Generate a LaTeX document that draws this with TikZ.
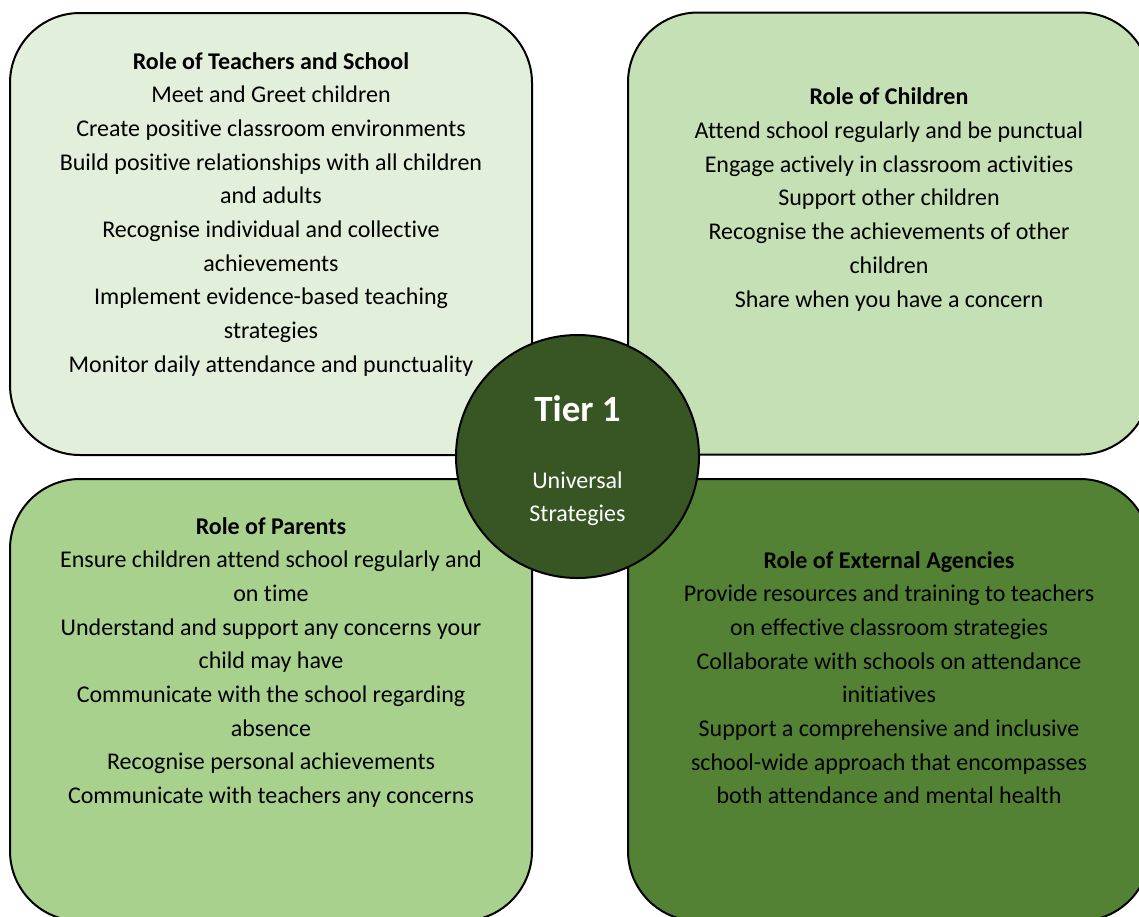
\documentclass[tikz,border=0pt]{standalone}
\usepackage{fontspec}
\setmainfont{Carlito}[Ligatures=NoCommon]
\usepackage{tikz}
\usetikzlibrary{shapes,backgrounds}

\definecolor{teachcol}{HTML}{E2EFDA}
\definecolor{childcol}{HTML}{C5E0B4}
\definecolor{parentcol}{HTML}{A9D18E}
\definecolor{agencycol}{HTML}{548235}
\definecolor{tiercol}{HTML}{375623}

\begin{document}
\begin{tikzpicture}[x=1pt,y=-1pt]
  \tikzstyle{role}=[rectangle,rounded corners=70pt,draw=black,line width=2pt,
  		    minimum width=522pt,minimum height=442pt,inner sep=0pt]
  \tikzstyle{tier}=[circle,draw=black,line width=2pt,fill=tiercol,
  		    minimum size=243pt,inner sep=0pt]
  \tikzstyle{duties}=[anchor=base,align=center,inner sep=0pt,
  		      font=\fontsize{24}{33.7}\selectfont]
  \useasboundingbox (0,0) rectangle (1139,916);
  % the four roles
  \node [role,fill=teachcol]  (teachers) at (271,234) {};
  \node [role,fill=childcol]  (children) at (889,233.5) {};
  \node [role,fill=parentcol] (parents)  at (271,700) {};
  \node [role,fill=agencycol] (agencies) at (889,700) {};
  \node [tier] (tier) at (577.5,456.5) {};
  % texts (anchored at the last line)
  \node [duties] (teachers text) at (271,372.3) {\textbf{Role of Teachers and School}\\
    Meet and Greet children\\
    Create positive classroom environments\\
    Build positive relationships with all children\\
    and adults\\
    Recognise individual and collective\\
    achievements\\
    Implement evidence-based teaching\\
    strategies\\
    Monitor daily attendance and punctuality};
  \node [duties] (children text) at (889,307) {\textbf{Role of Children}\\
    Attend school regularly and be punctual\\
    Engage actively in classroom activities\\
    Support other children\\
    Recognise the achievements of other\\
    children\\
    Share when you have a concern};
  \node [duties] (parents text) at (271,803.6) {\textbf{Role of Parents}\\
    Ensure children attend school regularly and\\
    on time\\
    Understand and support any concerns your\\
    child may have\\
    Communicate with the school regarding\\
    absence\\
    Recognise personal achievements\\
    Communicate with teachers any concerns};
  \node [duties] (agencies text) at (889,803.9) {\textbf{Role of External Agencies}\\
    Provide resources and training to teachers\\
    on effective classroom strategies\\
    Collaborate with schools on attendance\\
    initiatives\\
    Support a comprehensive and inclusive\\
    school-wide approach that encompasses\\
    both attendance and mental health};
  \node [anchor=base,text=white,inner sep=0pt,font=\fontsize{37}{40}\selectfont\bfseries]
    (tier title) at (577.5,421) {Tier 1};
  \node [duties,text=white] (tier text) at (577.5,521.7) {Universal\\Strategies};
\end{tikzpicture}
\end{document}
